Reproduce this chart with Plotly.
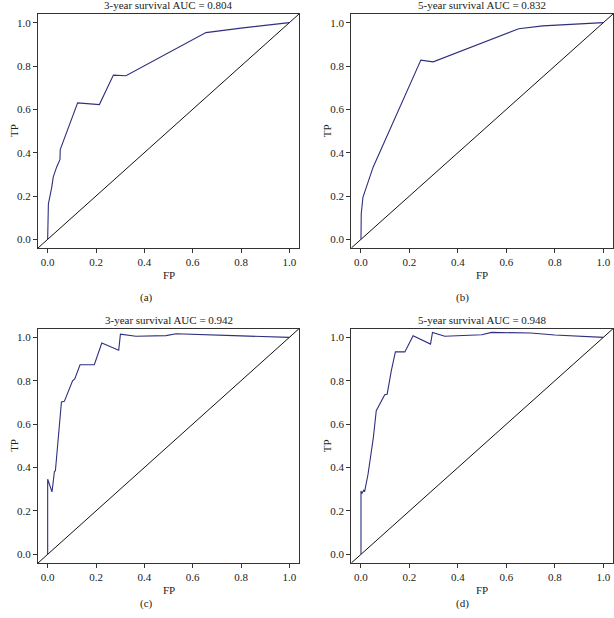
import plotly.graph_objects as go

# ROC curves (FP, TP)
fp_a = [0.0, 0.0, 0.003, 0.017, 0.023, 0.037, 0.051, 0.052, 0.124, 0.214, 0.272, 0.324, 0.655, 0.8, 1.0]
tp_a = [0.0, 0.156, 0.164, 0.241, 0.287, 0.333, 0.369, 0.414, 0.630, 0.622, 0.758, 0.755, 0.954, 0.975, 1.0]

fp_b = [0.0, 0.001, 0.008, 0.036, 0.050, 0.247, 0.298, 0.651, 0.75, 1.0]
tp_b = [0.0, 0.117, 0.194, 0.287, 0.333, 0.827, 0.819, 0.972, 0.985, 1.0]

fp_c = [0.0, 0.0, 0.018, 0.028, 0.032, 0.057, 0.069, 0.103, 0.112, 0.134, 0.193, 0.224, 0.294,
        0.301, 0.365, 0.490, 0.531, 0.65, 0.8, 1.0]
tp_c = [0.0, 0.346, 0.288, 0.382, 0.385, 0.702, 0.705, 0.800, 0.808, 0.874, 0.874, 0.974, 0.941,
        1.015, 1.005, 1.008, 1.017, 1.014, 1.007, 1.0]

fp_d = [0.0, 0.0, 0.004, 0.011, 0.015, 0.022, 0.029, 0.051, 0.063, 0.098, 0.108, 0.125, 0.142,
        0.181, 0.215, 0.287, 0.295, 0.346, 0.498, 0.539, 0.7, 0.8, 1.0]
tp_d = [0.0, 0.292, 0.280, 0.295, 0.289, 0.323, 0.369, 0.538, 0.662, 0.736, 0.738, 0.846, 0.933,
        0.933, 1.008, 0.969, 1.023, 1.005, 1.012, 1.023, 1.020, 1.011, 1.0]

titles = ['3-year survival AUC = 0.804', '5-year survival AUC = 0.832',
          '3-year survival AUC = 0.942', '5-year survival AUC = 0.948']
letters = ['(a)', '(b)', '(c)', '(d)']
tick_vals = [0.0, 0.2, 0.4, 0.6, 0.8, 1.0]
axis_range = [-0.04, 1.04]

W, H = 614, 618
FONT = 'Liberation Serif'
ROC_COLOR = '#2f2f7e'

# panel boxes in pixels: left, right, top, bottom
boxes = [(38, 299, 14, 248), (351.3, 613, 14, 248),
         (38, 299, 328.7, 563), (351.3, 613, 328.7, 563)]
letter_pos = [(146, 298), (462.7, 298), (146, 603), (462.7, 603)]


def main():
    curves = [(fp_a, tp_a), (fp_b, tp_b), (fp_c, tp_c), (fp_d, tp_d)]
    fig = go.Figure()
    layout = dict(
        width=W, height=H,
        margin=dict(l=0, r=0, t=0, b=0),
        paper_bgcolor='white', plot_bgcolor='white',
        showlegend=False,
        font=dict(family=FONT, color='#222'),
        annotations=[],
    )

    for i, (fps, tps) in enumerate(curves):
        n = '' if i == 0 else str(i + 1)
        xa, ya = 'x' + n, 'y' + n
        left, right, top, bottom = boxes[i]

        fig.add_trace(go.Scatter(x=axis_range, y=axis_range, mode='lines',
                                 line=dict(color='#111', width=1),
                                 xaxis=xa, yaxis=ya, hoverinfo='skip'))
        fig.add_trace(go.Scatter(x=fps, y=tps, mode='lines',
                                 line=dict(color=ROC_COLOR, width=1.1),
                                 xaxis=xa, yaxis=ya))

        ax = dict(range=axis_range, tickvals=tick_vals, tickformat='.1f',
                  showgrid=False, zeroline=False, showline=True, mirror=True,
                  linecolor='#333', linewidth=1, ticks='outside', ticklen=4,
                  tickcolor='#333', tickfont=dict(family=FONT, size=11, color='#222'))
        layout['xaxis' + n] = dict(ax, domain=[left / W, right / W], anchor=ya)
        layout['yaxis' + n] = dict(ax, domain=[1 - bottom / H, 1 - top / H], anchor=xa)

        dom_x, dom_y = xa + ' domain', ya + ' domain'
        layout['annotations'] += [
            dict(text=titles[i], xref=dom_x, yref=dom_y, x=0.5, y=1,
                 yanchor='bottom', yshift=1, showarrow=False,
                 font=dict(family=FONT, size=11, color='#222')),
            dict(text='FP', xref=dom_x, yref=dom_y, x=0.5, y=0,
                 yanchor='middle', yshift=-27, showarrow=False,
                 font=dict(family=FONT, size=11, color='#222')),
            dict(text='TP', xref=dom_x, yref=dom_y, x=0, y=0.5,
                 xanchor='center', xshift=-24, textangle=-90, showarrow=False,
                 font=dict(family=FONT, size=11, color='#222')),
            dict(text=letters[i], xref='paper', yref='paper',
                 x=letter_pos[i][0] / W, y=1 - letter_pos[i][1] / H,
                 xanchor='center', yanchor='middle', showarrow=False,
                 font=dict(family=FONT, size=11, color='#222')),
        ]

    fig.update_layout(**layout)
    # drop the default page margin so the figure sits at the window corner
    fig.write_html('out.html', config={'displayModeBar': False},
                   post_script="document.body.style.margin='0';document.body.style.overflow='hidden';")


if __name__ == '__main__':
    main()
